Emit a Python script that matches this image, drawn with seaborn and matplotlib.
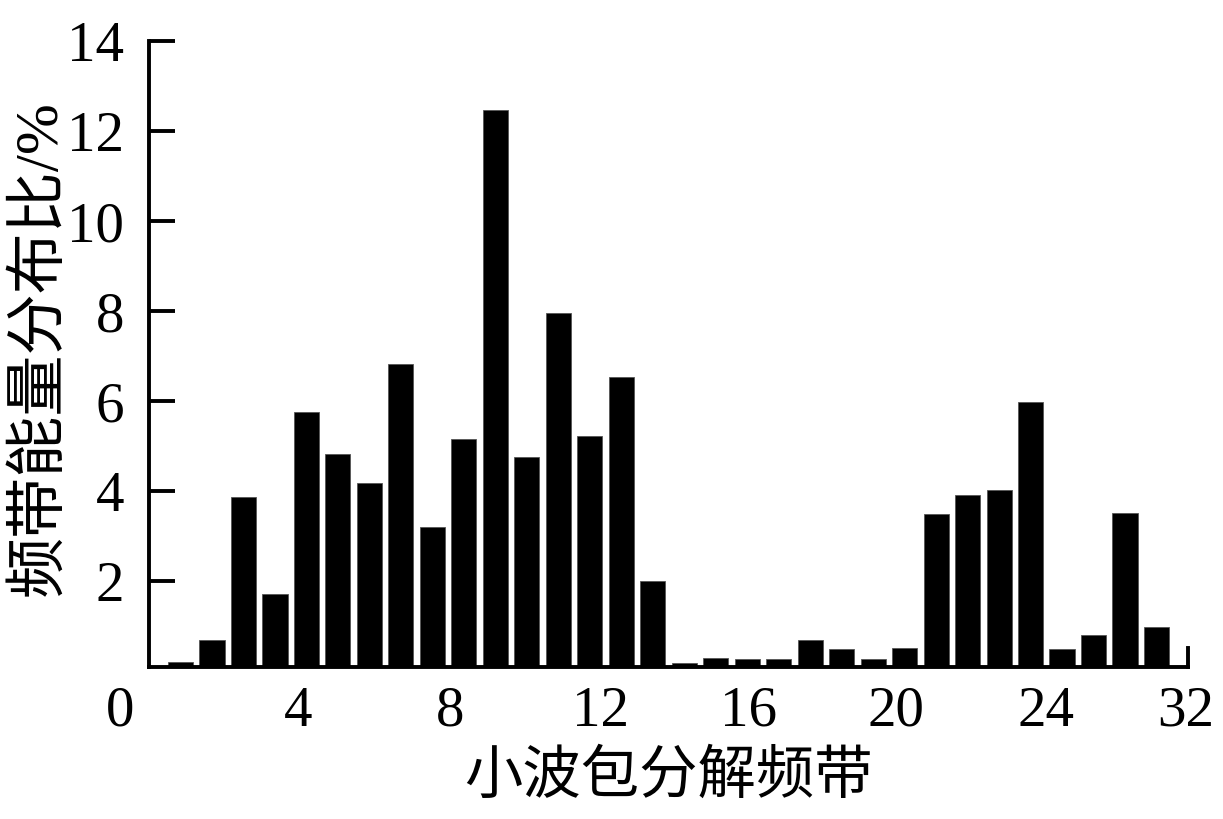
import numpy as np
import pandas as pd
import matplotlib
matplotlib.use('Agg')
import matplotlib.pyplot as plt
import matplotlib.transforms as mtransforms
import seaborn as sns

# energy share of each wavelet packet band (%)
bands = list(range(1, 33))
energy = [0.21, 0.71, 3.87, 1.72, 5.76, 4.83, 4.18, 6.83, 3.21, 5.16, 12.46, 4.76,
          7.96, 5.23, 6.54, 2.02, 0.18, 0.31, 0.27, 0.27, 0.71, 0.49, 0.27, 0.52,
          3.50, 3.91, 4.04, 5.98, 0.49, 0.81, 3.53, 0.98]

x_labels = ['0', '4', '8', '12', '16', '20', '24', '32']
x_label_pos = [-0.91, 4.73, 9.55, 14.34, 19.03, 23.73, 28.49, 32.93]
y_ticks = [2, 4, 6, 8, 10, 12, 14]

sns.set_style('white')
plt.rcParams['font.family'] = ['Liberation Serif', 'Noto Sans CJK SC']
plt.rcParams['text.color'] = 'black'
plt.rcParams['axes.labelcolor'] = 'black'
fam = ['Liberation Serif', 'Noto Sans CJK SC']

df = pd.DataFrame({'band': bands, 'energy': energy})

fig = plt.figure(figsize=(12.23, 8.19), dpi=100)
ax = fig.add_axes([0.1218, 0.1856, 0.9714 - 0.1218, 0.95 - 0.1856])

sns.barplot(data=df, x='band', y='energy', native_scale=True, color='black',
            saturation=1, width=0.8, ax=ax, edgecolor='#555555', linewidth=0.6)

ax.set_xlim(0, 33)
ax.set_ylim(0.1, 14)

ax.spines['top'].set_visible(False)
ax.spines['right'].set_bounds(0.1, 0.52)
for s in ['left', 'bottom', 'right']:
    ax.spines[s].set_linewidth(2.8)
    ax.spines[s].set_color('black')

ax.set_yticks(y_ticks)
ax.set_yticklabels([str(v) for v in y_ticks])
ax.tick_params(axis='y', direction='in', length=19, width=2.8, labelsize=41,
               pad=18, colors='black', left=True)
ax.set_xticks([])
ax.set_xlabel('')
ax.set_ylabel('')

trans = mtransforms.blended_transform_factory(ax.transData, ax.transAxes)
for pos, lab in zip(x_label_pos, x_labels):
    ax.text(pos, -0.03, lab, transform=trans, ha='center', va='top', fontsize=41,
            color='black', family=fam)

fig.text(668 / 1223, 1 - 778 / 819, '小波包分解频带', fontsize=42, color='black',
         ha='center', va='center', family=fam)
fig.text(40 / 1223, 1 - 348 / 819, '频带能量分布比/%', fontsize=44, color='black',
         ha='center', va='center', rotation=90, family=fam)

fig.savefig('out.png', dpi=100)
